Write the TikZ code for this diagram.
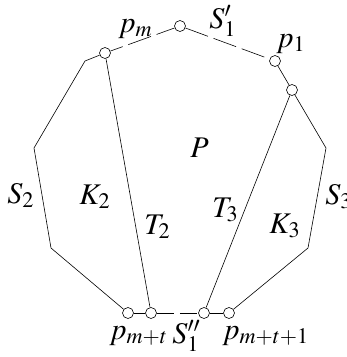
\documentclass[tikz,border=0pt]{standalone}
\usepackage{mathptmx}

\begin{document}
\begin{tikzpicture}[x=1pt,y=-1pt,line width=0.6pt,
  vtx/.style={draw,circle,fill=white,inner sep=0pt,minimum size=11pt},
  lbl/.style={anchor=base west,inner sep=0pt,font=\fontsize{30}{33}\selectfont},
  gapped/.style={dash pattern=on 24pt off 6pt}]
\useasboundingbox (0,0) rectangle (347,357);
% outer corners
\coordinate (a1) at (85,61);  \coordinate (a2) at (34,148);  \coordinate (a3) at (51,248);
\coordinate (b1) at (326,148); \coordinate (b2) at (308,248);
% marked points
\node[vtx] (pm) at (105,53) {};
\node[vtx] (top) at (180,26) {};
\node[vtx] (p1) at (275,61) {};
\node[vtx] (r) at (292,90) {};
\node[vtx] (q1) at (128,313) {};
\node[vtx] (q2) at (151,313) {};
\node[vtx] (q3) at (204,313) {};
\node[vtx] (q4) at (229,313) {};
% sides
\draw (pm) -- (a1) -- (a2) -- (a3) -- (q1);
\draw (r) -- (b1) -- (b2) -- (q4);
\draw (p1) -- (r);
\draw (q1) -- (q2);  \draw (q3) -- (q4);
\draw[gapped,dash phase=11pt] (pm) -- (top);
\draw[gapped] (top) -- (p1);
\draw[dash pattern=on 17pt off 6pt] (q2) -- (q3);
% chords
\draw (pm) -- (q2);
\draw (r) -- (q3);
% labels
\node[lbl] (lpm) at (118,32) {$p_m$};
\node[lbl] (ls1) at (209,28) {$S'_1$};
\node[lbl] (lp1) at (276,47) {$p_1$};
\node[lbl] (lP) at (190,157) {$P$};
\node[lbl] (ls2) at (7,203) {$S_2$};
\node[lbl] (lk2) at (79,204) {$K_2$};
\node[lbl] (lt2) at (144,234) {$T_2$};
\node[lbl] (lt3) at (212,217) {$T_3$};
\node[lbl] (lk3) at (269,233) {$K_3$};
\node[lbl] (ls3) at (325,204) {$S_3$};
\node[lbl] (lpmt) at (109,339) {$p_{m+t}$};
\node[lbl] (ls1b) at (172,343) {$S''_1$};
\node[lbl] (lpmt1) at (222,339) {$p_{m+t+1}$};
\end{tikzpicture}
\end{document}
